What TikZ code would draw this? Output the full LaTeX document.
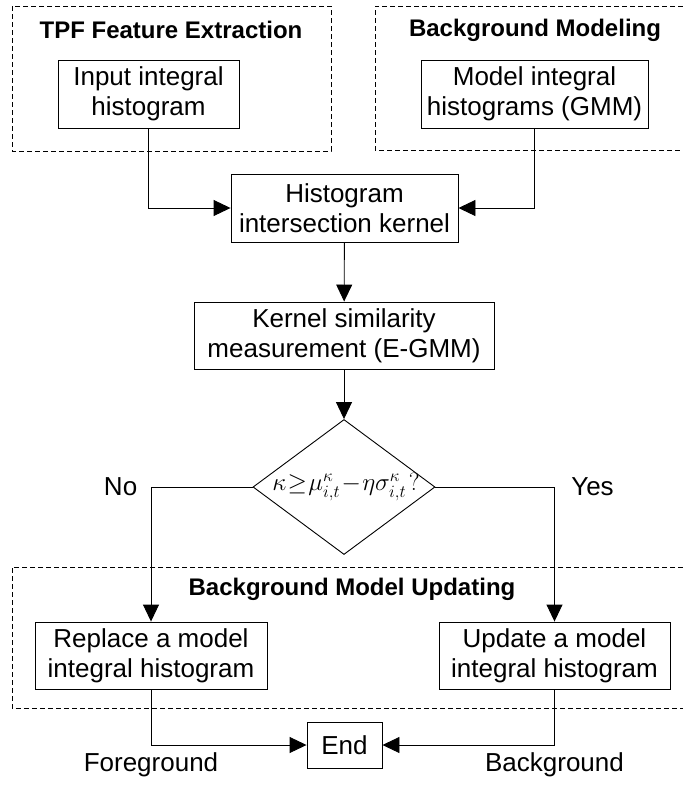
\documentclass[tikz,border=0pt]{standalone}
\usepackage{fontspec}
\setmainfont{Liberation Sans}
\usetikzlibrary{arrows.meta,calc,shapes.geometric}

\tikzset{
  box/.style={draw,line width=0.9pt,align=center,minimum height=68pt,inner sep=2pt,font=\fontsize{26}{30}\selectfont},
  group/.style={draw,line width=0.8pt,dash pattern=on 5pt off 3pt},
  title/.style={font=\fontsize{24}{28}\selectfont\bfseries},
  flow/.style={line width=0.9pt,-{Triangle[length=17pt,width=16pt]}},
  lbl/.style={font=\fontsize{26}{30}\selectfont},
  decision/.style={draw,diamond,line width=0.9pt,minimum width=182pt,minimum height=135pt,inner sep=0pt,aspect=1.35},
}

\begin{document}
\begin{tikzpicture}[x=1pt,y=-1pt]
\useasboundingbox (0,0) rectangle (683,785);

% dashed groups
\draw[group] (12,6) rectangle (331,151);
\draw[group] (683,6) -| (375,150) -- (683,150);
\draw[group] (683,567) -| (12,708) -- (683,708);

\node[title] (tpf) at (171,30) {TPF Feature Extraction};
\node[title] (bgm) at (535,30) {Background Modeling};
\node[title] (upd) at (352,589) {Background Model Updating};

% steps
\node[box,minimum width=181pt] (inp) at (148.5,94) {Input integral\\histogram};
\node[box,minimum width=227pt] (mdl) at (534.5,94) {Model integral\\histograms (GMM)};
\node[box,minimum width=227pt] (hist) at (344.5,208) {Histogram\\intersection kernel};
\node[box,minimum width=300pt,minimum height=67pt] (kern) at (344,335.5) {Kernel similarity\\measurement (E-GMM)};
\node[decision] (dec) at (344,487) {};
\node (cond) at (346,487) {\fontsize{27}{30}\selectfont\thickmuskip=1mu\medmuskip=1mu$\kappa\ge\mu^{\kappa}_{i,t}-\eta\sigma^{\kappa}_{i,t}\mkern2mu\mathit{?}$};
\node[box,minimum width=232pt,minimum height=67pt] (repl) at (151,655.5) {Replace a model\\integral histogram};
\node[box,minimum width=231pt,minimum height=67pt] (updt) at (554.5,655.5) {Update a model\\integral histogram};
\node[box,minimum width=75pt,minimum height=46pt] (end) at (344.5,745) {End};

% connectors
\draw[flow] (inp.south) |- (hist.west);
\draw[flow] (mdl.south) |- (hist.east);
\draw[flow] (hist) -- (kern);
\draw[flow] (kern) -- (dec.north);
\draw[flow] (dec.west) -| node[lbl,pos=0.5,left=10pt] {No} (repl.north);
\draw[flow] (dec.east) -| node[lbl,pos=0.5,right=13pt] {Yes} (updt.north);
\draw[flow] (repl.south) |- node[lbl,pos=0.5,below=4pt] {Foreground} (end.west);
\draw[flow] (updt.south) |- node[lbl,pos=0.5,below=4pt] {Background} (end.east);

\end{tikzpicture}
\end{document}
